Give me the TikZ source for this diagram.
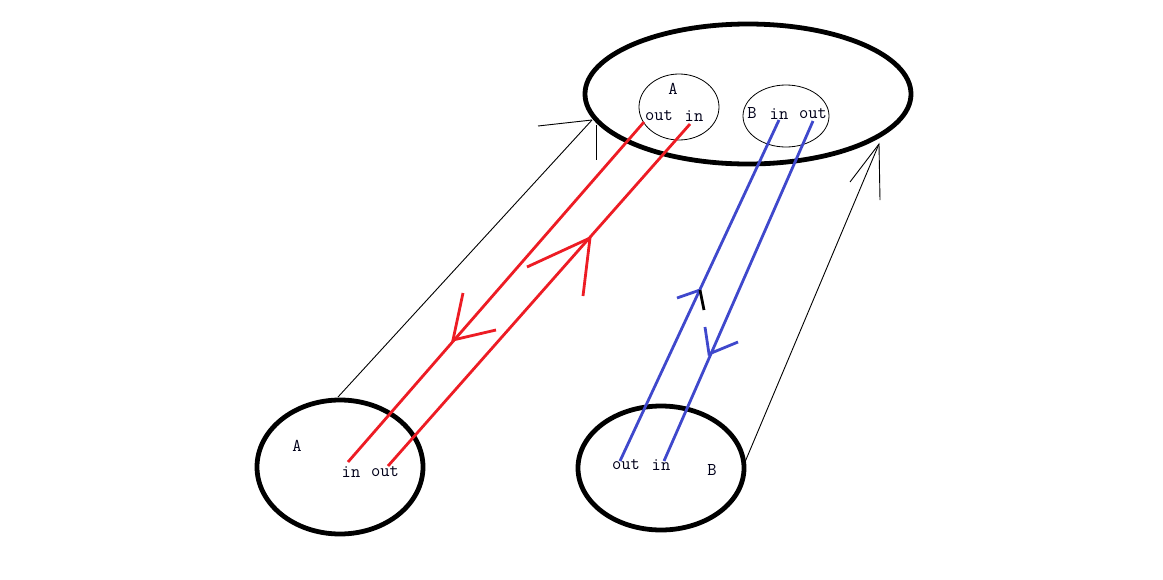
\documentclass[tikz,border=0pt]{standalone}
\usepackage{fontspec}
\usetikzlibrary{shapes.geometric}
\definecolor{pred}{RGB}{237,28,36}
\definecolor{pblue}{RGB}{63,72,204}
\tikzset{
  bigell/.style={draw=black,line width=4.8pt,ellipse,inner sep=0pt},
  smallell/.style={draw=black,line width=0.8pt,ellipse,inner sep=0pt},
  lbl/.style={font=\ttfamily\fontsize{18}{20}\selectfont,inner sep=0pt,text=black!90!blue},
  redln/.style={draw=pred,line width=2.8pt},
  blueln/.style={draw=pblue,line width=2.8pt},
  thinln/.style={draw=black,line width=0.9pt},
}
\begin{document}
\begin{tikzpicture}[x=1pt,y=-1pt]
\useasboundingbox (0,0) rectangle (1163,579);
% ellipses
\node[bigell,minimum width=326,minimum height=140] (top) at (748,94) {};
\node[smallell,minimum width=80,minimum height=66] (topA) at (679,107) {};
\node[smallell,minimum width=86,minimum height=62] (topB) at (786,116) {};
\node[bigell,minimum width=166,minimum height=134] (botA) at (340,467) {};
\node[bigell,minimum width=166,minimum height=124] (botB) at (661,468) {};
% labels
\node[lbl] (tA) at (673,89) {A};
\node[lbl] (tAout) at (659,116) {out};
\node[lbl] (tAin) at (694,116) {in};
\node[lbl] (tB) at (752,113) {B};
\node[lbl] (tBin) at (779,114) {in};
\node[lbl] (tBout) at (813,114) {out};
\node[lbl] (bA) at (297,446) {A};
\node[lbl] (bAin) at (351,472) {in};
\node[lbl] (bAout) at (385,472) {out};
\node[lbl] (bBout) at (626,465) {out};
\node[lbl] (bBin) at (661,465) {in};
\node[lbl] (bB) at (712,470) {B};
% endpoints
\coordinate (r1a) at (644,122);
\coordinate (r1b) at (348,462);
\coordinate (r2a) at (690,124);
\coordinate (r2b) at (388,466);
\coordinate (b1a) at (779,120);
\coordinate (b1b) at (620,461);
\coordinate (b2a) at (813,121);
\coordinate (b2b) at (664,461);
% red lines and arrowheads
\draw[redln] (r1a) -- (r1b);
\draw[redln] (r2a) -- (r2b);
\coordinate (h1) at (453,340);
\coordinate (h1a) at (463,293);
\coordinate (h1b) at (496,330);
\draw[redln] (h1a) -- (h1) -- (h1b);
\coordinate (h2) at (590,238);
\coordinate (h2a) at (527,267);
\coordinate (h2b) at (583,296);
\draw[redln] (h2a) -- (h2) -- (h2b);
% blue lines and arrowheads
\draw[blueln] (b1a) -- (b1b);
\draw[blueln] (b2a) -- (b2b);
\coordinate (h3) at (700,290);
\coordinate (h3a) at (677,298);
\coordinate (h3b) at (704,310);
\draw[blueln] (h3a) -- (h3);
\draw[draw=black,line width=2.8pt] (h3) -- (h3b);
\coordinate (h4) at (709,354);
\coordinate (h4a) at (705,327);
\coordinate (h4b) at (738,342);
\draw[blueln] (h4a) -- (h4) -- (h4b);
% thin black connectors
\coordinate (k1) at (592,120);
\coordinate (k1a) at (538,126);
\coordinate (k1s) at (596,125);
\coordinate (k1e) at (596,160);
\coordinate (k1o) at (338,397);
\draw[thinln] (k1o) -- (k1);
\draw[thinln] (k1a) -- (k1);
\draw[thinln] (k1s) -- (k1e);
\coordinate (k2) at (879,144);
\coordinate (k2o) at (745,462);
\coordinate (k2a) at (850,182);
\coordinate (k2e) at (880,200);
\draw[thinln] (k2o) -- (k2);
\draw[thinln] (k2a) -- (k2) -- (k2e);
\end{tikzpicture}
\end{document}
